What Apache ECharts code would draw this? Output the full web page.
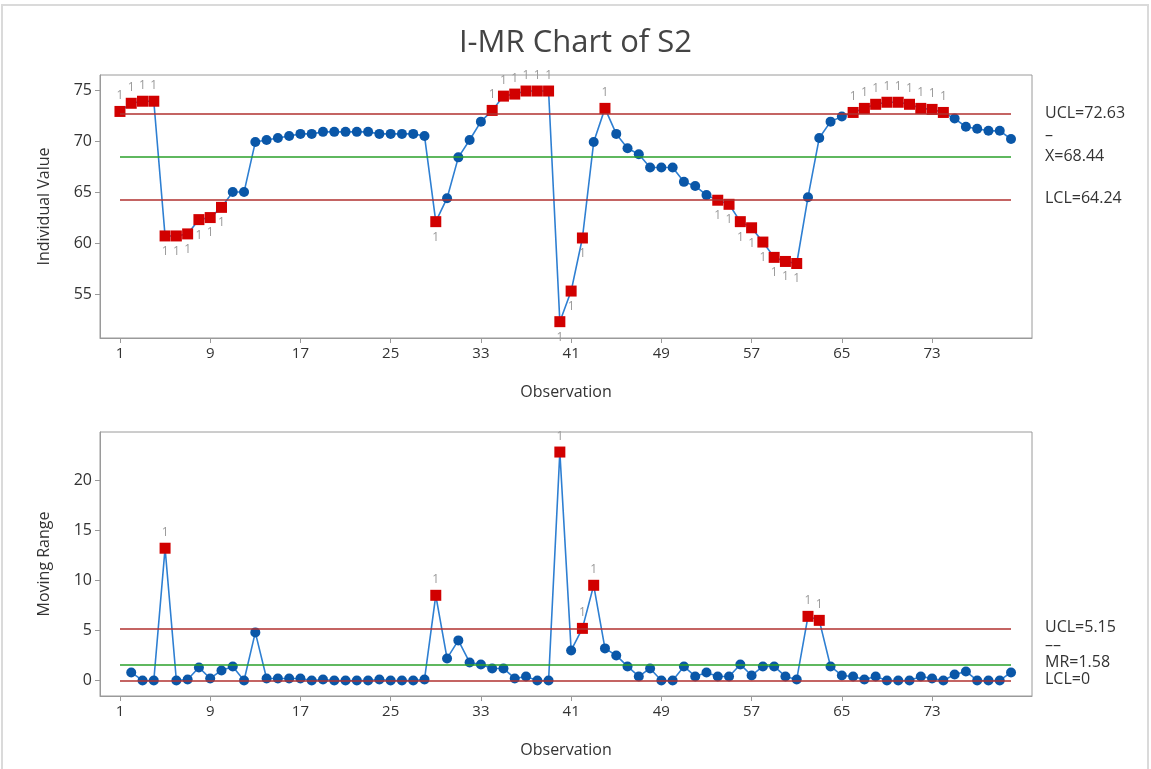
<!DOCTYPE html>
<html>
<head>
<meta charset="utf-8">
<title>I-MR Chart of S2</title>
<script src="https://cdn.jsdelivr.net/npm/echarts@6/dist/echarts.min.js"></script>
<style>
html, body { margin: 0; padding: 0; background: #fff; }
#chart { width: 1151px; height: 769px; }
</style>
</head>
<body>
<div id="chart"></div>
<script>
// individual values, observations 1..80
var individual = [72.9, 73.7, 73.9, 73.9, 60.7, 60.7, 60.9, 62.3, 62.5, 63.5,
	65.0, 65.0, 69.9, 70.1, 70.3, 70.5, 70.7, 70.7, 70.9, 70.9,
	70.9, 70.9, 70.9, 70.7, 70.7, 70.7, 70.7, 70.5, 62.1, 64.4,
	68.4, 70.1, 71.9, 73.0, 74.4, 74.6, 74.9, 74.9, 74.9, 52.3,
	55.3, 60.5, 69.9, 73.2, 70.7, 69.3, 68.7, 67.4, 67.4, 67.4,
	66.0, 65.6, 64.7, 64.2, 63.8, 62.1, 61.5, 60.1, 58.6, 58.2,
	58.0, 64.5, 70.3, 71.9, 72.4, 72.8, 73.2, 73.6, 73.8, 73.8,
	73.6, 73.2, 73.1, 72.8, 72.2, 71.4, 71.2, 71.0, 71.0, 70.2];

// moving ranges, first observation has none
var movingRange = [null, 0.8, 0.0, 0.0, 13.2, 0.0, 0.1, 1.3, 0.2, 1.0,
	1.4, 0.0, 4.8, 0.2, 0.2, 0.2, 0.2, 0.0, 0.1, 0.0,
	0.0, 0.0, 0.0, 0.1, 0.0, 0.0, 0.0, 0.1, 8.5, 2.2,
	4.0, 1.8, 1.6, 1.2, 1.2, 0.2, 0.4, 0.0, 0.0, 22.8,
	3.0, 5.2, 9.5, 3.2, 2.5, 1.4, 0.4, 1.2, 0.0, 0.0,
	1.4, 0.4, 0.8, 0.4, 0.4, 1.6, 0.5, 1.4, 1.4, 0.4,
	0.1, 6.4, 6.0, 1.4, 0.5, 0.4, 0.1, 0.4, 0.0, 0.0,
	0.0, 0.4, 0.2, 0.0, 0.6, 0.9, 0.0, 0.0, 0.0, 0.8];

var xTicks = [1, 9, 17, 25, 33, 41, 49, 57, 65, 73];
var iTicks = [55, 60, 65, 70, 75];
var mrTicks = [0, 5, 10, 15, 20];

var iLimits = { ucl: 72.63, cl: 68.44, lcl: 64.24 };
var mrLimits = { ucl: 5.15, cl: 1.58, lcl: 0 };

var FONT = '"Open Sans", "Noto Sans", sans-serif';
var RED = '#d10000';
var BLUE_PT = '#0a57a8';
var BLUE_LN = '#2e7fd2';
var LIMIT = '#b0302f';
var CENTER = '#2aa02a';

function buildData(values, limits) {
	var out = [];
	for (var i = 0; i < values.length; i++) {
		var v = values[i];
		if (v === null) continue;
		var item = { value: [i + 1, v] };
		var above = v > limits.ucl;
		var below = limits.lcl > 0 && v < limits.lcl;
		if (above || below) {
			item.symbol = 'rect';
			item.symbolSize = 11;
			item.itemStyle = { color: RED };
			item.label = {
				show: true,
				formatter: '1',
				position: above ? 'top' : 'bottom',
				distance: 4,
				color: '#9a9a9a',
				fontSize: 12,
				fontFamily: FONT
			};
		}
		out.push(item);
	}
	return out;
}

function limitLines(limits) {
	function seg(v, c) {
		return [{ coord: [1, v], lineStyle: { color: c, width: 1.6, type: 'solid' } }, { coord: [80, v] }];
	}
	return {
		silent: true,
		symbol: ['none', 'none'],
		label: { show: false },
		animation: false,
		data: [seg(limits.ucl, LIMIT), seg(limits.cl, CENTER), seg(limits.lcl, LIMIT)]
	};
}

function xAxisCfg(idx) {
	return {
		type: 'value',
		gridIndex: idx,
		min: -0.77,
		max: 81.86,
		name: 'Observation',
		nameLocation: 'middle',
		nameGap: 46,
		nameTextStyle: { fontFamily: FONT, fontSize: 16, color: '#333' },
		axisLine: { onZero: false, lineStyle: { color: '#9a9a9a', width: 1 } },
		axisTick: { show: true, customValues: xTicks, length: 5, lineStyle: { color: '#9a9a9a' } },
		axisLabel: { customValues: xTicks, fontFamily: FONT, fontSize: 15, color: '#333', margin: 8 },
		splitLine: { show: false }
	};
}

function yAxisCfg(idx, name, min, max, ticks) {
	return {
		type: 'value',
		gridIndex: idx,
		min: min,
		max: max,
		name: name,
		nameLocation: 'middle',
		nameGap: 48,
		nameTextStyle: { fontFamily: FONT, fontSize: 16, color: '#333' },
		axisLine: { show: true, onZero: false, lineStyle: { color: '#9a9a9a', width: 1 } },
		axisTick: { show: true, customValues: ticks, length: 5, lineStyle: { color: '#9a9a9a' } },
		axisLabel: { customValues: ticks, fontFamily: FONT, fontSize: 16, color: '#333', margin: 8 },
		splitLine: { show: false }
	};
}

function seriesCfg(idx, values, limits) {
	return {
		type: 'line',
		xAxisIndex: idx,
		yAxisIndex: idx,
		data: buildData(values, limits),
		symbol: 'circle',
		symbolSize: 10,
		showAllSymbol: true,
		lineStyle: { color: BLUE_LN, width: 1.6 },
		itemStyle: { color: BLUE_PT },
		markLine: limitLines(limits),
		animation: false,
		z: 3
	};
}

var myChart = echarts.init(document.getElementById('chart'));
var option = {
	backgroundColor: '#fff',
	animation: false,
	title: {
		text: 'I-MR Chart of S2',
		left: 'center',
		top: 23,
		textStyle: { fontFamily: FONT, fontSize: 31, fontWeight: 'normal', color: '#444' }
	},
	grid: [
		{ left: 100, right: 119, top: 75, height: 263, show: true, borderColor: '#9a9a9a', borderWidth: 1, backgroundColor: '#fff' },
		{ left: 100, right: 119, top: 432, height: 264, show: true, borderColor: '#9a9a9a', borderWidth: 1, backgroundColor: '#fff' }
	],
	xAxis: [xAxisCfg(0), xAxisCfg(1)],
	yAxis: [
		yAxisCfg(0, 'Individual Value', 50.7, 76.47, iTicks),
		yAxisCfg(1, 'Moving Range', -1.55, 24.8, mrTicks)
	],
	series: [
		seriesCfg(0, individual, iLimits),
		seriesCfg(1, movingRange, mrLimits)
	]
};
myChart.setOption(option);

// limit labels on the right side
function limitText(grid, v, txt, dy) {
	var p = myChart.convertToPixel({ gridIndex: grid }, [80, v]);
	return {
		type: 'text',
		x: 1045,
		y: p[1] + (dy || 0),
		style: { text: txt, fontFamily: FONT, fontSize: 16, fill: '#333', verticalAlign: 'middle' }
	};
}
var labels = [
	limitText(0, iLimits.ucl, 'UCL=72.63', -1),
	limitText(0, iLimits.cl, '\u2013', -22),
	limitText(0, iLimits.cl, 'X=68.44', -1),
	limitText(0, iLimits.lcl, 'LCL=64.24', -1),
	limitText(1, mrLimits.ucl, 'UCL=5.15', -1),
	limitText(1, mrLimits.cl, '\u2013\u2013', -19),
	limitText(1, mrLimits.cl, 'MR=1.58', -2),
	limitText(1, mrLimits.lcl, 'LCL=0', -1)
];
labels.push({
	type: 'rect',
	shape: { x: 2, y: 5, width: 1146, height: 800 },
	style: { fill: 'none', stroke: '#dadada', lineWidth: 2 },
	silent: true
});
myChart.setOption({ graphic: labels });
</script>
</body>
</html>
